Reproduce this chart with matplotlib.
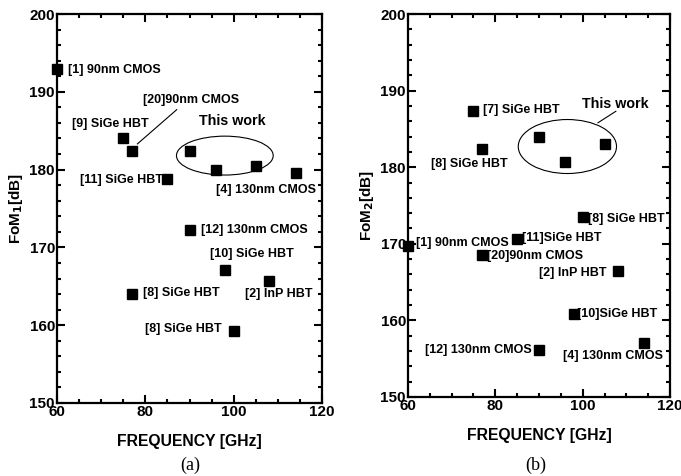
import matplotlib
matplotlib.use("Agg")
import matplotlib.pyplot as plt
from matplotlib.patches import Ellipse

plt.rcParams['font.family'] = ['Liberation Sans', 'DejaVu Sans']

# Panel (a): FoM1
freq_a = [60, 75, 77, 90, 96, 105, 114, 85, 90, 98, 108, 77, 100]
fom1_a = [192.9, 184.0, 182.4, 182.4, 180.0, 180.5, 179.6, 178.8, 172.3, 167.1, 165.7, 164.0, 159.3]
labels_a = ["[1] 90nm CMOS", "[9] SiGe HBT", "[20]90nm CMOS", "", "", "",
            "[4] 130nm CMOS", "[11] SiGe HBT", "[12] 130nm CMOS", "[10] SiGe HBT",
            "[2] InP HBT", "[8] SiGe HBT", "[8] SiGe HBT"]
# text anchor positions (data coords) and alignment
lpos_a = [(62.6, 192.8, 'left'), (63.3, 185.9, 'left'), (79.5, 189.0, 'left'), None, None, None,
          (96.1, 177.4, 'left'), (83.9, 178.7, 'right'), (92.7, 172.3, 'left'), (94.6, 169.2, 'left'),
          (102.5, 164.0, 'left'), (79.5, 164.1, 'left'), (97.3, 159.5, 'right')]

# Panel (b): FoM2
freq_b = [75, 77, 90, 96, 105, 100, 60, 85, 77, 108, 98, 90, 114]
fom2_b = [187.4, 182.4, 184.0, 180.7, 183.0, 173.5, 169.7, 170.6, 168.5, 166.5, 160.9, 156.1, 157.0]
labels_b = ["[7] SiGe HBT", "[8] SiGe HBT", "", "", "", "[8] SiGe HBT", "[1] 90nm CMOS",
            "[11]SiGe HBT", "[20]90nm CMOS", "[2] InP HBT", "[10]SiGe HBT",
            "[12] 130nm CMOS", "[4] 130nm CMOS"]
lpos_b = [(77.1, 187.5, 'left'), (65.2, 180.4, 'left'), None, None, None, (101.3, 173.3, 'left'),
          (61.8, 170.1, 'left'), (86.2, 170.7, 'left'), (78.2, 168.4, 'left'), (105.5, 166.2, 'right'),
          (98.8, 160.9, 'left'), (88.3, 156.1, 'right'), (95.4, 155.3, 'left')]

fig = plt.figure(figsize=(6.81, 4.76), dpi=100)
ax1 = fig.add_axes([57/681, 1-403/476, 265/681, 389/476])
ax2 = fig.add_axes([408/681, 1-397/476, 262/681, 383/476])

def style(ax):
    ax.set_xlim(60, 120)
    ax.set_ylim(150, 200)
    ax.set_xticks([60, 80, 100, 120])
    ax.set_yticks([150, 160, 170, 180, 190, 200])
    ax.set_xticks(range(60, 121, 5), minor=True)
    ax.set_yticks(range(150, 201, 2), minor=True)
    ax.tick_params(which='both', direction='in', top=True, right=True, width=1.5)
    ax.tick_params(which='major', length=6, labelsize=11, pad=1.5)
    ax.tick_params(which='minor', length=3)
    for s in ax.spines.values():
        s.set_linewidth(1.6)
    for t in ax.get_xticklabels() + ax.get_yticklabels():
        t.set_fontweight('bold')
    ax.set_xlabel('FREQUENCY [GHz]', fontsize=11.3, fontweight='bold', labelpad=11)

style(ax1)
style(ax2)

ax1.plot(freq_a, fom1_a, 's', color='black', markersize=7, clip_on=False)
ax2.plot(freq_b, fom2_b, 's', color='black', markersize=7, clip_on=False)

for lab, p in zip(labels_a, lpos_a):
    if p:
        ax1.text(p[0], p[1], lab, ha=p[2], va='center', fontsize=9, fontweight='bold')
for lab, p in zip(labels_b, lpos_b):
    if p:
        ax2.text(p[0], p[1], lab, ha=p[2], va='center', fontsize=9, fontweight='bold')

ax1.add_patch(Ellipse((98.0, 181.8), 21.9, 5.0, fill=False, lw=0.8, color='black'))
ax1.text(99.8, 186.2, 'This work', ha='center', va='center', fontsize=10.3, fontweight='bold')
ax1.plot([78.2, 87.1], [183.3, 187.7], color='black', lw=0.8)

ax2.add_patch(Ellipse((96.5, 182.7), 22.5, 7.05, fill=False, lw=0.8, color='black'))
ax2.text(107.4, 188.3, 'This work', ha='center', va='center', fontsize=10.3, fontweight='bold')
ax2.plot([103.5, 107.6], [185.8, 187.3], color='black', lw=0.8)

ax1.set_ylabel('FoM$_\\mathbf{1}$[dB]', fontsize=11, fontweight='bold', labelpad=3)
ax2.set_ylabel('FoM$_\\mathbf{2}$[dB]', fontsize=11, fontweight='bold', labelpad=3)

fig.text(190/681, 1-465/476, '(a)', ha='center', va='center', fontsize=13, family='Liberation Serif')
fig.text(536/681, 1-465/476, '(b)', ha='center', va='center', fontsize=13, family='Liberation Serif')

fig.savefig('out.png', dpi=100)
